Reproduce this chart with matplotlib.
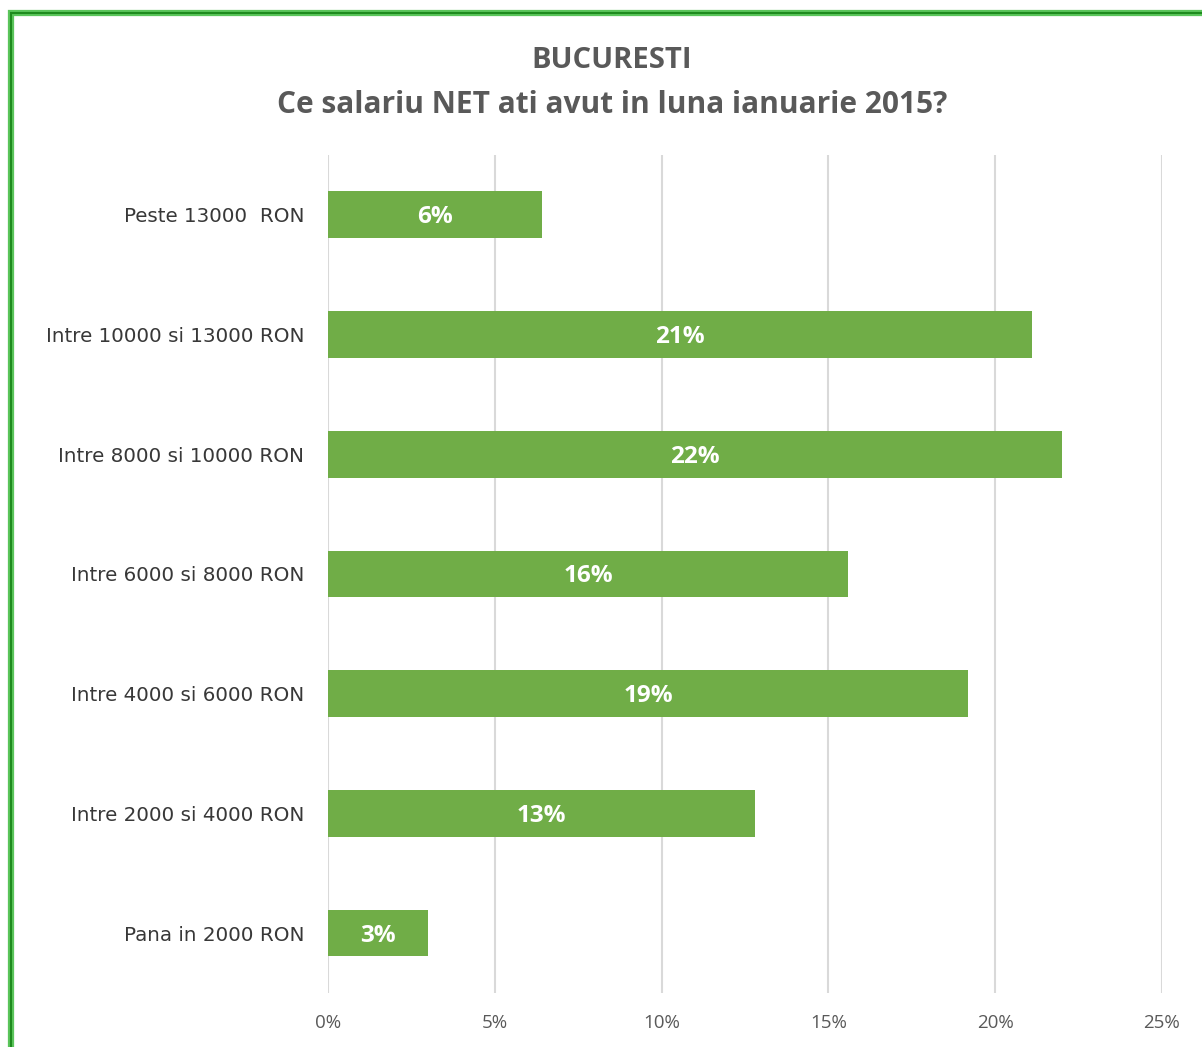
import matplotlib.pyplot as plt
from matplotlib.patches import Rectangle
from matplotlib.ticker import FuncFormatter

# date (de sus in jos)
categorii = [
    "Peste 13000  RON",
    "Intre 10000 si 13000 RON",
    "Intre 8000 si 10000 RON",
    "Intre 6000 si 8000 RON",
    "Intre 4000 si 6000 RON",
    "Intre 2000 si 4000 RON",
    "Pana in 2000 RON",
]
valori = [6.4, 21.1, 22.0, 15.6, 19.2, 12.8, 3.0]
etichete = ["6%", "21%", "22%", "16%", "19%", "13%", "3%"]
ticks_x = [0, 5, 10, 15, 20, 25]

plt.rcParams['font.family'] = ['Open Sans', 'DejaVu Sans']

fig = plt.figure(figsize=(12.02, 10.47), dpi=100)
ax = fig.add_axes([0.2729, 0.0516, 0.6938, 0.8004])

y = list(range(len(categorii)))
ax.barh(y, valori, height=0.39, color="#70AD47", zorder=3)
for yi, v, et in zip(y, valori, etichete):
    ax.text(v / 2, yi + 0.02, et, ha="center", va="center", color="white",
            fontsize=17.5, fontweight="bold", zorder=4)

ax.set_xlim(0, 25)
ax.set_ylim(len(categorii) - 0.5, -0.5)
ax.set_yticks(y)
ax.set_yticklabels(categorii, fontsize=14.3, color="#383838",
                   family=["DejaVu Sans"])
ax.set_xticks(ticks_x)
ax.xaxis.set_major_formatter(FuncFormatter(lambda v, p: f"{v:.0f}%"))
ax.tick_params(axis="x", labelsize=13.5, colors="#595959", length=0, pad=15)
ax.tick_params(axis="y", length=0, pad=17)
ax.grid(axis="x", color="#D9D9D9", linewidth=1.5, zorder=0)
for s in ax.spines.values():
    s.set_visible(False)

fig.text(0.509, 0.942, "BUCURESTI", ha="center", va="center",
         fontsize=21, fontweight="bold", color="#595959")
fig.text(0.509, 0.900, "Ce salariu NET ati avut in luna ianuarie 2015?",
         ha="center", va="center", fontsize=21.5, fontweight="bold", color="#595959")

# chenar verde
fig.patches.append(Rectangle((0.0095, -0.1), 1.2, 1.088, transform=fig.transFigure,
                             fill=False, edgecolor="#5BC55B", linewidth=4.5))
fig.patches.append(Rectangle((0.0095, -0.1), 1.2, 1.088, transform=fig.transFigure,
                             fill=False, edgecolor="#1E8B1E", linewidth=1.5))

fig.savefig("out.png", dpi=100)
